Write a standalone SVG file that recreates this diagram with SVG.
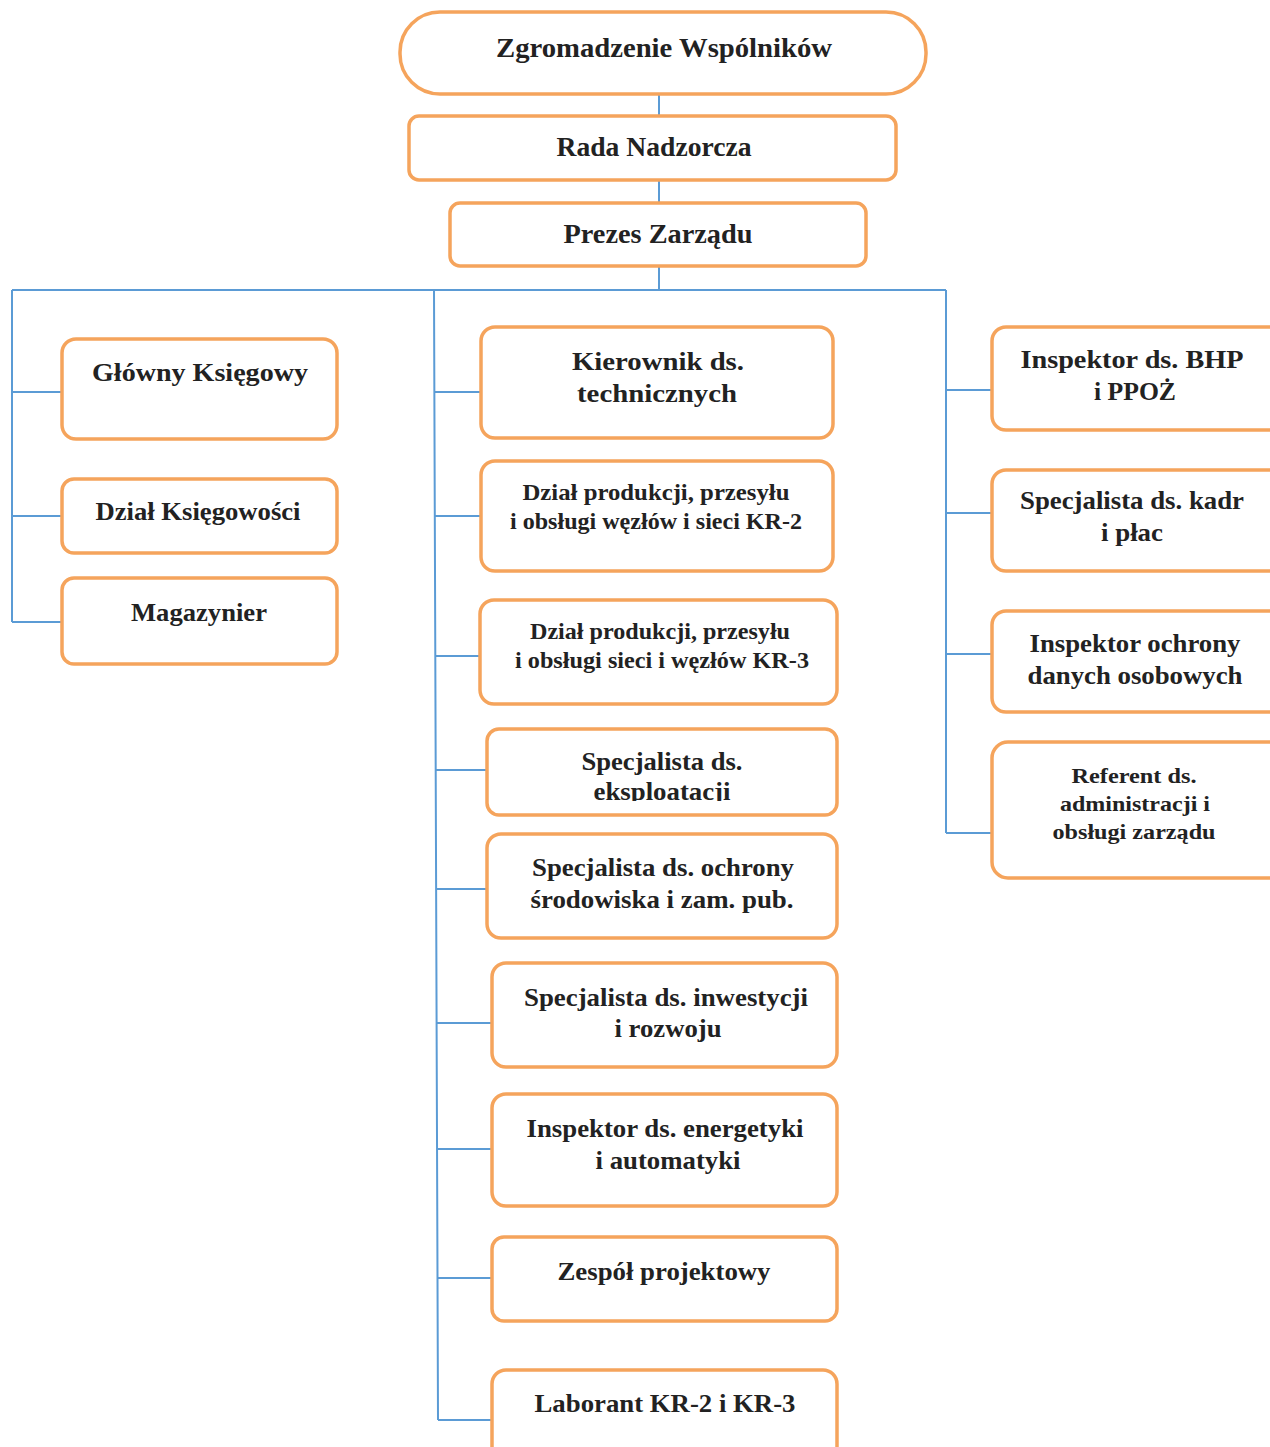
<svg xmlns="http://www.w3.org/2000/svg" width="1270" height="1447" viewBox="0 0 1270 1447">
<style>
.box{fill:#fff;stroke:#F5A45C;stroke-width:3.5}
.ln{fill:none;stroke:#5B9BD5;stroke-width:2}
text{font-family:"Liberation Serif","Times New Roman",serif;font-weight:bold;fill:#222;text-anchor:middle}
.l{font-size:27px}
.m{font-size:26px}
.s{font-size:23px}
.xs{font-size:22px}
</style>
<defs>
<clipPath id="clipEks"><rect x="487" y="729" width="350" height="72"/></clipPath>
</defs>
<rect width="1270" height="1447" fill="#fff"/>
<g id="connectors">
<path class="ln" d="M659 94V116M659 180V203M659 266V290M12 290H946"/>
<path class="ln" d="M12 290V622M12 392H62M12 516H62M12 622H62"/>
<path class="ln" d="M434 290L438 1420M435 392H481M435 516H481M435 656H480M436 770H487M436 889H487M436 1023H492M437 1149H492M437 1278H492M438 1420H492"/>
<path class="ln" d="M946 290V833M946 390H992M946 513H992M946 654H992M946 833H992"/>
</g>
<g id="n-zgromadzenie"><rect class="box" x="400" y="12" width="526" height="82" rx="40"/><text class="l" x="664" y="57" textLength="336" lengthAdjust="spacingAndGlyphs">Zgromadzenie Wspólników</text></g>
<g id="n-rada"><rect class="box" x="409" y="116" width="487" height="64" rx="10"/><text class="l" x="654" y="156" textLength="195" lengthAdjust="spacingAndGlyphs">Rada Nadzorcza</text></g>
<g id="n-prezes"><rect class="box" x="450" y="203" width="416" height="63" rx="10"/><text class="l" x="658" y="243" textLength="189" lengthAdjust="spacingAndGlyphs">Prezes Zarządu</text></g>
<g id="n-glowny"><rect class="box" x="62" y="339" width="275" height="100" rx="14"/><text class="m" x="200" y="381" textLength="216" lengthAdjust="spacingAndGlyphs">Główny Księgowy</text></g>
<g id="n-dzial-ks"><rect class="box" x="62" y="479" width="275" height="74" rx="12"/><text class="m" x="198" y="520" textLength="205" lengthAdjust="spacingAndGlyphs">Dział Księgowości</text></g>
<g id="n-magazynier"><rect class="box" x="62" y="578" width="275" height="86" rx="12"/><text class="m" x="199" y="621" textLength="136" lengthAdjust="spacingAndGlyphs">Magazynier</text></g>
<g id="n-kierownik"><rect class="box" x="481" y="327" width="352" height="111" rx="14"/><text class="m" x="658" y="370" textLength="172" lengthAdjust="spacingAndGlyphs">Kierownik ds.</text><text class="m" x="657" y="402" textLength="160" lengthAdjust="spacingAndGlyphs">technicznych</text></g>
<g id="n-kr2"><rect class="box" x="481" y="461" width="352" height="110" rx="14"/><text class="s" x="656" y="500" textLength="267" lengthAdjust="spacingAndGlyphs">Dział produkcji,  przesyłu</text><text class="s" x="656" y="529" textLength="292" lengthAdjust="spacingAndGlyphs">i obsługi węzłów i sieci KR-2</text></g>
<g id="n-kr3"><rect class="box" x="480" y="600" width="357" height="104" rx="14"/><text class="s" x="660" y="639" textLength="260" lengthAdjust="spacingAndGlyphs">Dział produkcji, przesyłu</text><text class="s" x="662" y="668" textLength="294" lengthAdjust="spacingAndGlyphs">i obsługi sieci i węzłów KR-3</text></g>
<g id="n-eksploatacja"><rect class="box" x="487" y="729" width="350" height="86" rx="12"/><text class="m" x="662" y="770" textLength="161" lengthAdjust="spacingAndGlyphs">Specjalista ds.</text><text class="m" x="662" y="800" textLength="137" lengthAdjust="spacingAndGlyphs" clip-path="url(#clipEks)">eksploatacji</text></g>
<g id="n-srodowisko"><rect class="box" x="487" y="834" width="350" height="104" rx="14"/><text class="m" x="663" y="876" textLength="262" lengthAdjust="spacingAndGlyphs">Specjalista ds. ochrony</text><text class="m" x="662" y="908" textLength="263" lengthAdjust="spacingAndGlyphs">środowiska i zam. pub.</text></g>
<g id="n-inwestycje"><rect class="box" x="492" y="963" width="345" height="104" rx="14"/><text class="m" x="666" y="1006" textLength="284" lengthAdjust="spacingAndGlyphs">Specjalista ds. inwestycji</text><text class="m" x="668" y="1037" textLength="107" lengthAdjust="spacingAndGlyphs">i rozwoju</text></g>
<g id="n-energetyka"><rect class="box" x="492" y="1094" width="345" height="112" rx="14"/><text class="m" x="665" y="1137" textLength="277" lengthAdjust="spacingAndGlyphs">Inspektor ds. energetyki</text><text class="m" x="668" y="1169" textLength="145" lengthAdjust="spacingAndGlyphs">i automatyki</text></g>
<g id="n-zespol"><rect class="box" x="492" y="1237" width="345" height="84" rx="12"/><text class="m" x="664" y="1280" textLength="213" lengthAdjust="spacingAndGlyphs">Zespół projektowy</text></g>
<g id="n-laborant"><rect class="box" x="492" y="1370" width="345" height="95" rx="14"/><text class="m" x="665" y="1412" textLength="261" lengthAdjust="spacingAndGlyphs">Laborant KR-2 i KR-3</text></g>
<g id="n-bhp"><rect class="box" x="992" y="327" width="296" height="103" rx="14"/><text class="m" x="1132" y="368" textLength="223" lengthAdjust="spacingAndGlyphs">Inspektor ds. BHP</text><text class="m" x="1135" y="400" textLength="82" lengthAdjust="spacingAndGlyphs">i PPOŻ</text></g>
<g id="n-kadry"><rect class="box" x="992" y="470" width="296" height="101" rx="14"/><text class="m" x="1132" y="509" textLength="224" lengthAdjust="spacingAndGlyphs">Specjalista ds. kadr</text><text class="m" x="1132" y="541" textLength="62" lengthAdjust="spacingAndGlyphs">i płac</text></g>
<g id="n-rodo"><rect class="box" x="992" y="611" width="296" height="101" rx="14"/><text class="m" x="1135" y="652" textLength="211" lengthAdjust="spacingAndGlyphs">Inspektor ochrony</text><text class="m" x="1135" y="684" textLength="215" lengthAdjust="spacingAndGlyphs">danych osobowych</text></g>
<g id="n-referent"><rect class="box" x="992" y="742" width="296" height="136" rx="16"/><text class="xs" x="1134" y="783" textLength="125" lengthAdjust="spacingAndGlyphs">Referent ds.</text><text class="xs" x="1135" y="811" textLength="150" lengthAdjust="spacingAndGlyphs">administracji i</text><text class="xs" x="1134" y="839" textLength="163" lengthAdjust="spacingAndGlyphs">obsługi zarządu</text></g>
</svg>
